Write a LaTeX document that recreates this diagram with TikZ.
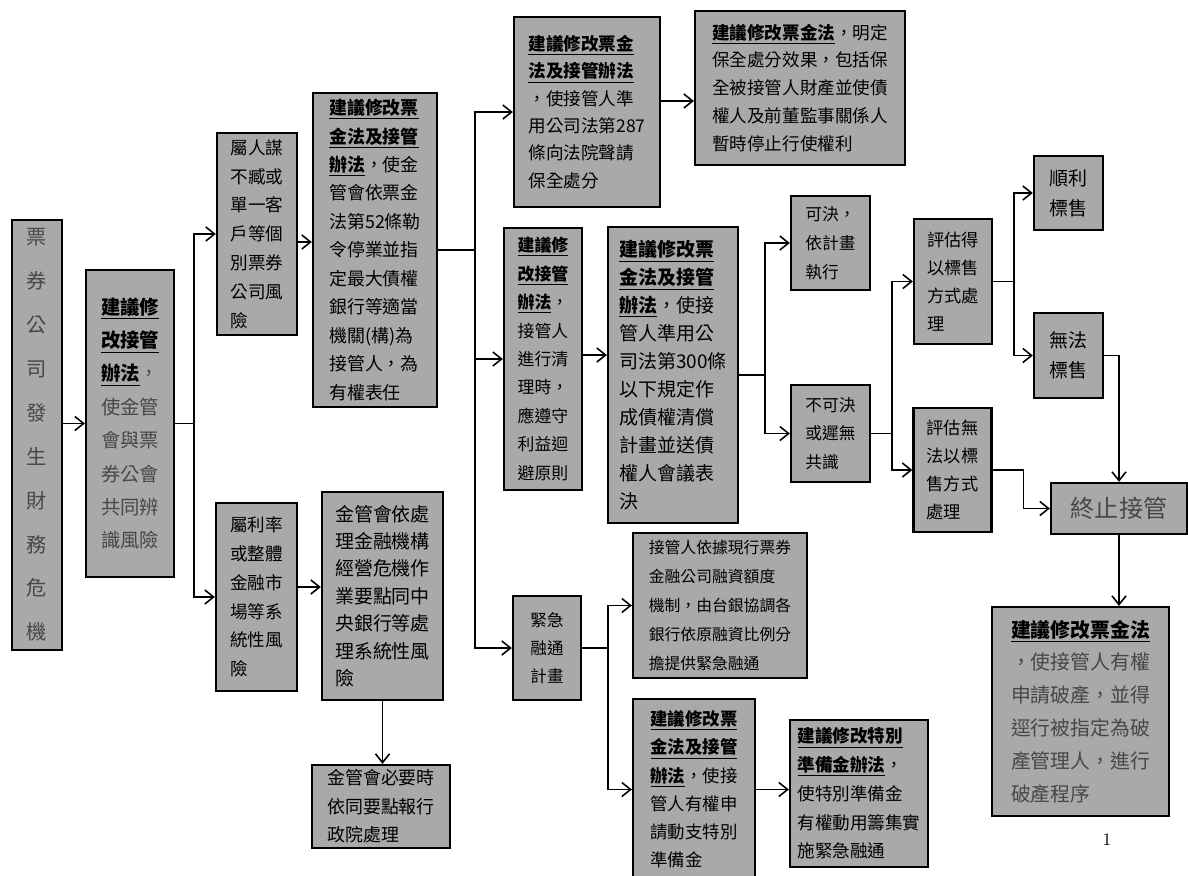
\documentclass[tikz,border=0pt]{standalone}
\usepackage{fontspec}
\usepackage{tikz}
\usetikzlibrary{arrows.meta}
\newfontfamily\cjk{Noto Sans CJK TC}
\definecolor{boxgray}{HTML}{A9A9A9}
\newcommand{\hd}[1]{{\color{black}\underline{\textbf{#1}}}}

\begin{document}
\begin{tikzpicture}[
    x=0.02cm, y=-0.02cm,
    box/.style={rectangle, draw=black, line width=1.3pt, fill=boxgray,
                align=left, inner sep=2pt,
                font=\cjk\fontsize{10pt}{16.4pt}\selectfont},
    arrow/.style={-{Straight Barb[length=5pt,width=8pt]}, line width=0.9pt},
    link/.style={line width=0.9pt}
]
\useasboundingbox (0,0) rectangle (1188,876);

% Start
\node[box, minimum width=1cm, minimum height=8.6cm, align=center, text=black!72,
      font=\cjk\fontsize{11.5pt}{25pt}\selectfont] at (37,435) (crisis)
      {票\\券\\公\\司\\發\\生\\財\\務\\危\\機};
\node[box, minimum width=1.76cm, minimum height=6.14cm, text=black!72,
      font=\cjk\fontsize{11pt}{19pt}\selectfont] at (130,423.5) (joint)
      {\hd{建議修}\\\hd{改接管}\\\hd{辦法}，\\使金管\\會與票\\券公會\\共同辨\\識風險};

% Individual / systemic risk
\node[box, minimum width=1.6cm, minimum height=4.04cm] at (257,234) (indiv)
      {屬人謀\\不臧或\\單一客\\戶等個\\別票券\\公司風\\險};
\node[box, minimum width=2.48cm, minimum height=6.28cm,
      font=\cjk\fontsize{10.2pt}{16.2pt}\selectfont] at (375,250) (ordr)
      {\hd{建議修改票}\\\hd{金法及接管}\\\hd{辦法}，使金\\管會依票金\\法第52條勒\\令停業並指\\定最大債權\\銀行等適當\\機關(構)為\\接管人，為\\有權表任};
\node[box, minimum width=1.62cm, minimum height=3.76cm] at (256.5,597) (sysrisk)
      {屬利率\\或整體\\金融市\\場等系\\統性風\\險};
\node[box, minimum width=2.42cm, minimum height=4.16cm,
      font=\cjk\fontsize{10.8pt}{15.6pt}\selectfont] at (382.5,596) (fsc)
      {金管會依處\\理金融機構\\經營危機作\\業要點同中\\央銀行等處\\理系統性風\\險};
\node[box, minimum width=2.76cm, minimum height=1.66cm,
      font=\cjk\fontsize{10.2pt}{16.2pt}\selectfont] at (381,806.5) (ey)
      {金管會必要時\\依同要點報行\\政院處理};

% Receivership measures
\node[box, minimum width=2.92cm, minimum height=3.8cm,
      font=\cjk\fontsize{10pt}{15.6pt}\selectfont] at (587,112) (pres)
      {\hd{建議修改票金}\\\hd{法及接管辦法}\\，使接管人準\\用公司法第287\\條向法院聲請\\保全處分};
\node[box, minimum width=4.2cm, minimum height=3.08cm,
      font=\cjk\fontsize{10pt}{15.9pt}\selectfont] at (800,88) (effect)
      {\hd{建議修改票金法}，明定\\保全處分效果，包括保\\全被接管人財產並使債\\權人及前董監事關係人\\暫時停止行使權利};
\node[box, minimum width=1.56cm, minimum height=5.24cm,
      font=\cjk\fontsize{9.6pt}{16.2pt}\selectfont] at (543,359) (avoid)
      {\hd{建議修}\\\hd{改接管}\\\hd{辦法}，\\接管人\\進行清\\理時，\\應遵守\\利益迴\\避原則};
\node[box, minimum width=2.6cm, minimum height=5.92cm,
      font=\cjk\fontsize{10.8pt}{15.9pt}\selectfont] at (673,375) (plan)
      {\hd{建議修改票}\\\hd{金法及接管}\\\hd{辦法}，使接\\管人準用公\\司法第300條\\以下規定作\\成債權清償\\計畫並送債\\權人會議表\\決};

% Vote and sale
\node[box, minimum width=1.58cm, minimum height=1.88cm,
      font=\cjk\fontsize{9.5pt}{16.4pt}\selectfont] at (830.5,243) (pass)
      {可決，\\依計畫\\執行};
\node[box, minimum width=1.58cm, minimum height=1.94cm,
      font=\cjk\fontsize{9.5pt}{16.4pt}\selectfont] at (830.5,433.5) (fail)
      {不可決\\或遲無\\共識};
\node[box, minimum width=1.56cm, minimum height=2.5cm,
      font=\cjk\fontsize{9.8pt}{16pt}\selectfont] at (953,281.5) (sale)
      {評估得\\以標售\\方式處\\理};
\node[box, minimum width=1.56cm, minimum height=2.48cm,
      font=\cjk\fontsize{9.8pt}{16pt}\selectfont] at (952.5,470) (nosale)
      {評估無\\法以標\\售方式\\處理};
\node[box, minimum width=1.38cm, minimum height=1.48cm,
      font=\cjk\fontsize{10.8pt}{17pt}\selectfont] at (1068.5,193) (sold)
      {順利\\標售};
\node[box, minimum width=1.38cm, minimum height=1.7cm,
      font=\cjk\fontsize{10.8pt}{17pt}\selectfont] at (1068.5,355.5) (unsold)
      {無法\\標售};
\node[box, minimum width=2.72cm, minimum height=1.02cm, align=center, text=black!72,
      font=\cjk\fontsize{13.7pt}{16pt}\selectfont] at (1119,508.5) (stop)
      {終止接管};
\node[box, minimum width=3.54cm, minimum height=4.18cm, text=black!72,
      font=\cjk\fontsize{11.3pt}{18.7pt}\selectfont] at (1080.5,711.5) (bankr)
      {\hd{建議修改票金法}\\，使接管人有權\\申請破產，並得\\逕行被指定為破\\產管理人，進行\\破產程序};

% Emergency funding
\node[box, minimum width=1.36cm, minimum height=2.08cm,
      font=\cjk\fontsize{9.4pt}{16pt}\selectfont] at (547,648) (emerg)
      {緊急\\融通\\計畫};
\node[box, minimum width=3.48cm, minimum height=2.9cm,
      font=\cjk\fontsize{9pt}{16.4pt}\selectfont] at (720,605.5) (fund)
      {接管人依據現行票券\\金融公司融資額度\\機制，由台銀協調各\\銀行依原融資比例分\\擔提供緊急融通};
\node[box, minimum width=2.44cm, minimum height=3.62cm,
      font=\cjk\fontsize{9.9pt}{16.1pt}\selectfont] at (694,789.5) (resv)
      {\hd{建議修改票}\\\hd{金法及接管}\\\hd{辦法}，使接\\管人有權申\\請動支特別\\準備金};
\node[box, minimum width=2.76cm, minimum height=2.94cm] at (859,793.5) (resvrule)
      {\hd{建議修改特別}\\\hd{準備金辦法}，\\使特別準備金\\有權動用籌集實\\施緊急融通};

\node[font=\fontsize{10pt}{12pt}\selectfont] at (1107,840) (pagenum) {1};

% Connectors
\draw[arrow] (crisis.east |- joint.west) -- (joint.west);
\draw[link] (joint.east) -- ++(19,0) coordinate (s1);
\draw[arrow] (s1) |- (indiv.west);
\draw[arrow] (s1) |- (sysrisk.west);
\draw[arrow] ([yshift=-0.16cm]indiv.east) -- ([yshift=-0.16cm]indiv.east -| ordr.west);
\draw[arrow] ([yshift=0.2cm]sysrisk.east) -- ([yshift=0.2cm]sysrisk.east -| fsc.west);
\draw[arrow] (fsc.south) -- (fsc.south |- ey.north);

\draw[link] (ordr.east) -- ++(37,0) coordinate (s2);
\draw[arrow] (s2) |- (pres.west);
\draw[arrow] (s2) |- (avoid.west);
\draw[arrow] (s2) |- (emerg.west);
\draw[arrow] ([yshift=0.22cm]pres.east) -- ([yshift=0.22cm]pres.east -| effect.west);
\draw[arrow] ([yshift=0.08cm]avoid.east) -- ([yshift=0.08cm]avoid.east -| plan.west);

\draw[link] (plan.east) -- ++(26,0) coordinate (s3);
\draw[arrow] (s3) |- (pass.west);
\draw[arrow] (s3) |- (fail.west);
\draw[link] (fail.east) -- ++(21,0) coordinate (s4);
\draw[arrow] (s4) |- (sale.west);
\draw[arrow] (s4) |- (nosale.west);
\draw[link] (sale.east) -- ++(21,0) coordinate (s5);
\draw[arrow] (s5) |- (sold.west);
\draw[arrow] (s5) |- (unsold.west);
\draw[arrow] (unsold.east) -| (stop.north);
\draw[arrow] (nosale.east) -- ++(31,0) |- (stop.west);
\draw[arrow] (stop.south) -- (stop.south |- bankr.north);

\draw[link] (emerg.east) -- ++(26,0) coordinate (s6);
\draw[arrow] (s6) |- (fund.west);
\draw[arrow] (s6) |- (resv.west);
\draw[arrow] (resv.east) -- (resv.east -| resvrule.west);

\end{tikzpicture}
\end{document}
